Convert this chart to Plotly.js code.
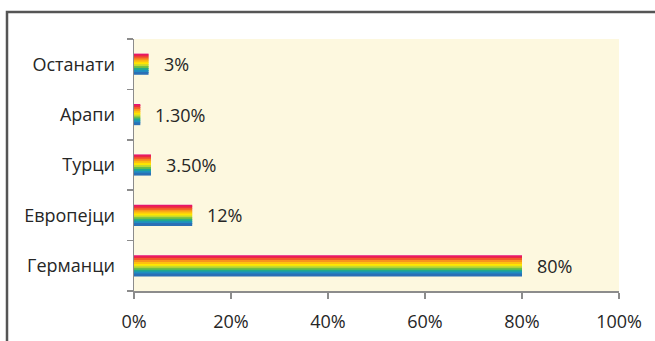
<!DOCTYPE html>
<html>
<head>
<meta charset="utf-8">
<script src="https://cdn.plot.ly/plotly-3.0.1.min.js"></script>
<style>
  html, body { margin: 0; padding: 0; background: #ffffff; }
  #chart { width: 655px; height: 341px; }
</style>
</head>
<body>
<div id="chart"></div>
<script>
const categories = ['Германци', 'Европејци', 'Турци', 'Арапи', 'Останати'];
const values = [80, 12, 3.5, 1.3, 3];
const valueLabels = ['80%', '12%', '3.50%', '1.30%', '3%'];
const xTickValues = [0, 20, 40, 60, 80, 100];
const xTickLabels = ['0%', '20%', '40%', '60%', '80%', '100%'];

// rainbow stripes, top to bottom
const stripeColors = ['#E4107C', '#EC2548', '#F15A29', '#F7941D', '#FDC010', '#FFE600',
                      '#C5D930', '#6CBF45', '#21A98C', '#1E8FC0', '#2A6FB6'];

const barThickness = 0.42;
const stripeW = barThickness / stripeColors.length;

const traces = stripeColors.map((c, i) => ({
  type: 'bar',
  orientation: 'h',
  y: categories,
  x: values,
  width: i === 0 ? stripeW : stripeW * 1.5,
  offset: barThickness / 2 - (i + 1) * stripeW,
  marker: { color: c, line: { width: 0 } },
  hoverinfo: 'skip',
  showlegend: false
}));

const annotations = categories.map((cat, i) => ({
  x: values[i], y: cat, xref: 'x', yref: 'y',
  text: valueLabels[i], showarrow: false,
  xanchor: 'left', yanchor: 'middle', xshift: 13,
  font: { family: 'Open Sans, Noto Sans, sans-serif', size: 18, color: '#262626' }
}));

const layout = {
  width: 655, height: 341,
  margin: { l: 134, r: 36, t: 39, b: 50 },
  paper_bgcolor: '#ffffff',
  plot_bgcolor: '#FDF8DF',
  barmode: 'overlay',
  font: { family: 'Open Sans, Noto Sans, sans-serif', size: 18, color: '#262626' },
  xaxis: {
    range: [0, 100],
    tickvals: xTickValues, ticktext: xTickLabels,
    showgrid: false, zeroline: false,
    showline: true, linecolor: '#8C8C8C', linewidth: 1.5,
    ticks: 'outside', ticklen: 6, tickcolor: '#8C8C8C', tickwidth: 1.5,
    ticklabelstandoff: 8,
    fixedrange: true
  },
  yaxis: {
    type: 'category',
    range: [-0.5, 4.5],
    showgrid: false, zeroline: false,
    showline: true, linecolor: '#8C8C8C', linewidth: 1.5,
    ticks: 'outside', tickson: 'boundaries', ticklen: 6, tickcolor: '#8C8C8C', tickwidth: 1.5,
    ticklabelstandoff: 14,
    fixedrange: true
  },
  annotations: annotations,
  shapes: [{
    type: 'rect', xref: 'paper', yref: 'paper',
    x0: (7 - 134) / 485, x1: (670 - 134) / 485,
    y0: (291 - 360) / 252, y1: (291 - 12) / 252,
    line: { color: '#555555', width: 2.5 },
    fillcolor: 'rgba(0,0,0,0)',
    layer: 'below'
  }]
};

Plotly.newPlot('chart', traces, layout, { displayModeBar: false, staticPlot: true });
</script>
</body>
</html>
